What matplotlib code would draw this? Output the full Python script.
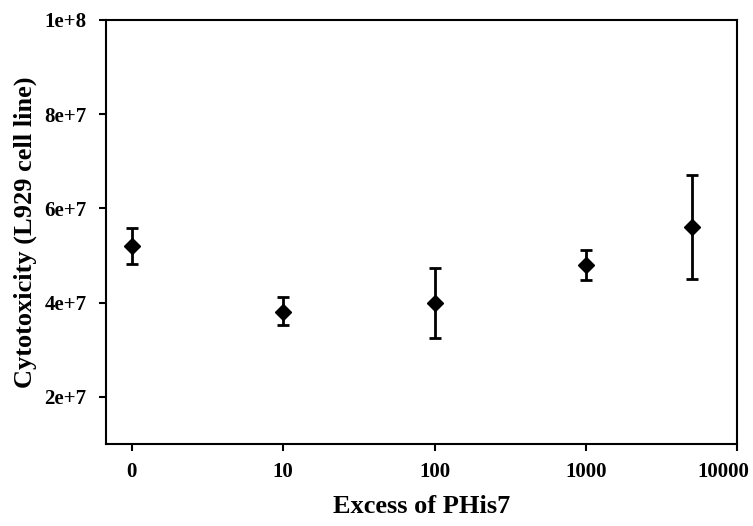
import matplotlib
matplotlib.use("Agg")
import matplotlib.pyplot as plt
import matplotlib.transforms as mtransforms
import numpy as np

# Data
excess_positions = [1, 10, 100, 1000, 5000]   # "0" drawn at 10^0 on the log axis
cytotoxicity = [5.2e7, 3.8e7, 4.0e7, 4.8e7, 5.6e7]
err_lower = [0.38e7, 0.27e7, 0.74e7, 0.32e7, 1.1e7]
err_upper = [0.38e7, 0.33e7, 0.74e7, 0.32e7, 1.1e7]
xtick_values = [1, 10, 100, 1000, 10000]
xtick_labels = ["0", "10", "100", "1000", "10000"]
ytick_values = [2e7, 4e7, 6e7, 8e7, 1e8]
ytick_labels = ["2e+7", "4e+7", "6e+7", "8e+7", "1e+8"]

plt.rcParams['font.family'] = ['Liberation Serif', 'DejaVu Serif']
plt.rcParams['font.weight'] = 'bold'

fig = plt.figure(figsize=(7.53, 5.26), dpi=100)
ax = fig.add_axes([0.1408, 0.1559, 0.8386, 0.8061])

ax.errorbar(excess_positions, cytotoxicity, yerr=[err_lower, err_upper],
            fmt='D', color='black', markersize=8.5, elinewidth=2.0,
            capsize=4.5, capthick=2.0, ecolor='black', zorder=3)

ax.set_xscale('log')
ax.set_xlim(10 ** -0.17, 1e4)
ax.set_ylim(1e7, 1e8)
ax.set_xticks(xtick_values)
ax.set_xticklabels(xtick_labels)
ax.minorticks_off()
ax.set_yticks(ytick_values)
ax.set_yticklabels(ytick_labels)

for s in ax.spines.values():
    s.set_linewidth(1.5)

ax.tick_params(axis='x', direction='out', length=5, width=1.5,
               labelsize=15, pad=8)
ax.tick_params(axis='y', direction='out', length=5, width=1.5,
               labelsize=15, pad=9)
for lab in ax.get_xticklabels() + ax.get_yticklabels():
    lab.set_fontweight('bold')

# last x tick label sits just inside the figure edge
last = ax.get_xticklabels()[-1]
last.set_transform(last.get_transform() +
                   mtransforms.ScaledTranslation(-14 / 100, 0, fig.dpi_scale_trans))

ax.set_xlabel("Excess of PHis7", fontsize=19, fontweight='bold', labelpad=9)
ax.set_ylabel("Cytotoxicity (L929 cell line)", fontsize=19, fontweight='bold', labelpad=5)

fig.savefig("out.png", dpi=100)
